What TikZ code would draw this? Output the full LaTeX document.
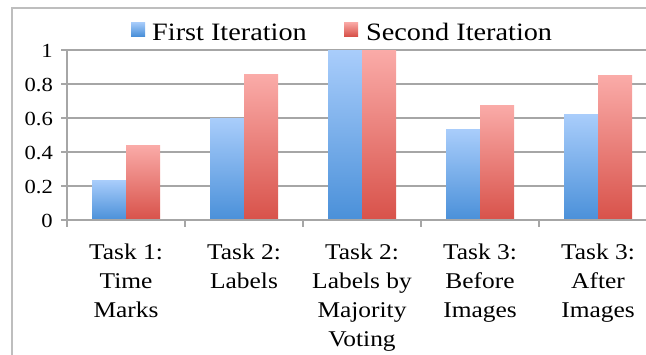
\documentclass[tikz,border=0pt]{standalone}
\usepackage{fontspec}
\setmainfont{Liberation Serif}
\newfontfamily\widefont[FakeStretch=1.13]{Liberation Serif}
\definecolor{bluetop}{HTML}{A9CDFB}
\definecolor{bluebot}{HTML}{4A90D9}
\definecolor{redtop}{HTML}{FAABA8}
\definecolor{redbot}{HTML}{D8524A}
\definecolor{gridc}{HTML}{A6A6A6}
\definecolor{framec}{HTML}{BEBEBE}
\begin{document}
\begin{tikzpicture}[x=1pt,y=-1pt,
  gridline/.style={draw=gridc,line width=1.6pt},
  framel/.style={draw=framec,line width=1.4pt},
  bluebar/.style={top color=bluetop,bottom color=bluebot,draw=none},
  redbar/.style={top color=redtop,bottom color=redbot,draw=none},
  ylab/.style={anchor=base east,inner sep=0pt,font=\widefont\fontsize{20}{25}\selectfont},
  xlab/.style={anchor=north,inner sep=0pt,align=center,font=\widefont\fontsize{22.5}{29}\selectfont},
  leglab/.style={anchor=base west,inner sep=0pt,font=\widefont\fontsize{25}{30}\selectfont}]
\useasboundingbox (0,0) rectangle (646,354);
% frame
\draw[framel] (12,360) -- (12,8) -- (660,8);
% gridlines
\foreach \v in {0.2,0.4,0.6,0.8,1} {
  \draw[gridline] (61,{220-170*\v}) -- (660,{220-170*\v});
}
% bars
\foreach \v [count=\i from 0] in {0.235,0.6,1,0.535,0.62} {
  \shade[bluebar] ({67+118*\i+25},220) rectangle ({67+118*\i+59},{220-170*\v});
}
\foreach \v [count=\i from 0] in {0.44,0.853,1,0.676,0.85} {
  \shade[redbar] ({67+118*\i+59},220) rectangle ({67+118*\i+93},{220-170*\v});
}
% axes
\draw[gridline] (67,50) -- (67,227);
\draw[gridline] (61,220) -- (660,220);
\foreach \i in {1,2,3,4} { \draw[gridline] ({67+118*\i},220) -- ({67+118*\i},227); }
% y labels
\node[ylab] (y0) at (53,227) {0};
\node[ylab] (y2) at (53,193) {0.2};
\node[ylab] (y4) at (53,159) {0.4};
\node[ylab] (y6) at (53,125) {0.6};
\node[ylab] (y8) at (53,91) {0.8};
\node[ylab] (y10) at (53,57) {1};
% x labels
\node[xlab] (c1) at (126,244) {Task 1:\\Time\\Marks};
\node[xlab] (c2) at (244,244) {Task 2:\\Labels};
\node[xlab] (c3) at (362,244) {Task 2:\\Labels by\\Majority\\Voting};
\node[xlab] (c4) at (480,244) {Task 3:\\Before\\Images};
\node[xlab] (c5) at (598,244) {Task 3:\\After\\Images};
% legend
\shade[bluebar] (131,22) rectangle (145,36);
\node[leglab] (l1) at (152,40) {First Iteration};
\shade[redbar] (344,22) rectangle (358,36);
\node[leglab] (l2) at (366,40) {Second Iteration};
\end{tikzpicture}
\end{document}
